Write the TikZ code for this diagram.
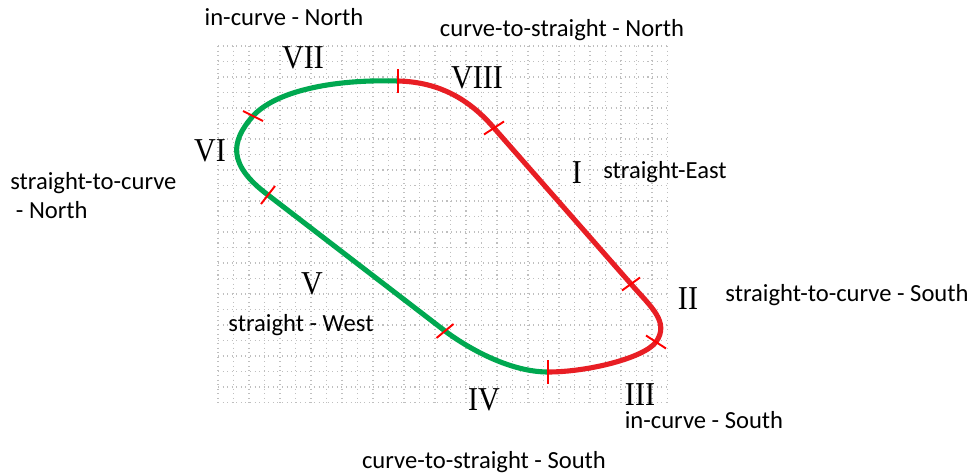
\documentclass[tikz,border=0pt]{standalone}
\usepackage{fontspec}
\setmainfont{Carlito}
\newfontfamily\numfont[FakeStretch=0.9]{Liberation Serif}
\usepackage{xcolor}
\definecolor{trackgreen}{RGB}{0,168,80}
\definecolor{trackred}{RGB}{232,30,36}

\begin{document}
\begin{tikzpicture}[
  x=0.2mm,y=-0.2mm,
  gridline/.style={draw=gray!50,dotted,line width=0.6pt},
  greentrack/.style={draw=trackgreen,line width=2.9pt},
  redtrack/.style={draw=trackred,line width=2.9pt},
  tickmark/.style={draw=red,line width=1.1pt},
  lbl/.style={font=\fontsize{14}{16}\selectfont,inner sep=0pt,anchor=base},
  num/.style={font=\numfont\fontsize{19}{22}\selectfont,inner sep=0pt,anchor=base}
]
  \useasboundingbox (0,0) rectangle (975,474);
  % dotted grid
  \foreach \gx in {0,...,29}
    \draw[gridline] ({218+15.5*\gx},46) -- ({218+15.5*\gx},402.5);
  \foreach \gy in {0,...,23}
    \draw[gridline] (218,{46+15.5*\gy}) -- (667.5,{46+15.5*\gy});

  % section borders on the track
  \coordinate (tA) at (398,81);
  \coordinate (tB) at (494,128);
  \coordinate (tC) at (631,284);
  \coordinate (tD) at (656,342);
  \coordinate (tE) at (548,372);
  \coordinate (tF) at (445,331);
  \coordinate (tG) at (268,195);
  \coordinate (tH) at (253,116);

  \draw[greentrack] (tE) .. controls (508,372) and (465,346) .. (tF) -- (tG)
    .. controls (228,165) and (230,142) .. (tH)
    .. controls (275,92) and (330,79) .. (tA);
  \draw[redtrack] (tA) .. controls (440,82) and (470,100) .. (tB) -- (tC)
    .. controls (651,307) and (670,322) .. (tD)
    .. controls (644,358) and (588,372) .. (tE);

  \draw[tickmark] (tA) ++(0,-12) -- ++(0,24);
  \draw[tickmark] (tB) ++(-10,6.5) -- ++(20,-13);
  \draw[tickmark] (tC) ++(-9,6.5) -- ++(18,-13);
  \draw[tickmark] (tD) ++(-10,-6.5) -- ++(20,13);
  \draw[tickmark] (tE) ++(0,-12) -- ++(0,24);
  \draw[tickmark] (tF) ++(-8.5,7) -- ++(17,-14);
  \draw[tickmark] (tG) ++(-7,9) -- ++(14,-18);
  \draw[tickmark] (tH) ++(-10,-5) -- ++(20,10);

  % section numbers
  \node[num] (secI) at (577,183) {I};
  \node[num] (secII) at (688,309) {II};
  \node[num] (secIII) at (640,405) {III};
  \node[num] (secIV) at (484,410) {IV};
  \node[num] (secV) at (312,294) {V};
  \node[num] (secVI) at (210,161) {VI};
  \node[num] (secVII) at (303,68) {VII};
  \node[num] (secVIII) at (477,88) {VIII};

  % section names
  \node[lbl] (nameI) at (665,178) {straight-East};
  \node[lbl] (nameII) at (847,301) {straight-to-curve - South};
  \node[lbl] (nameIII) at (704,428) {in-curve - South};
  \node[lbl] (nameIV) at (484,468) {curve-to-straight - South};
  \node[lbl] (nameV) at (301,331) {straight - West};
  \node[lbl,anchor=base west] (nameVI) at (10,189) {straight-to-curve};
  \node[lbl,anchor=base west] (nameVIb) at (10,218) {\ - North};
  \node[lbl] (nameVII) at (284,26) {in-curve - North};
  \node[lbl] (nameVIII) at (562,37) {curve-to-straight - North};
\end{tikzpicture}
\end{document}
